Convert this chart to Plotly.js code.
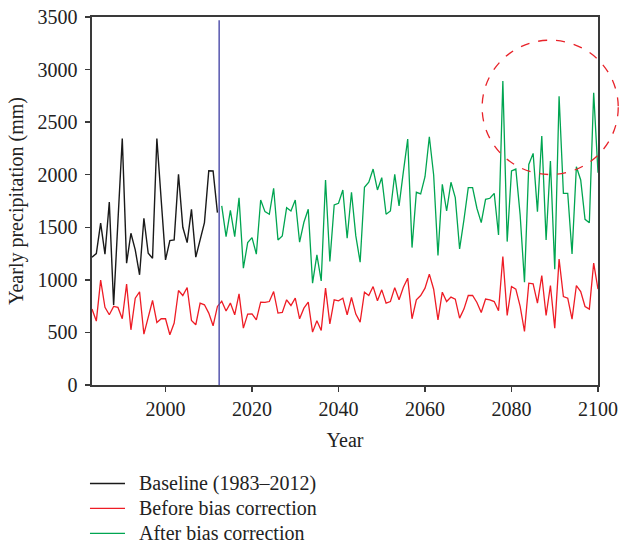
<!DOCTYPE html>
<html>
<head>
<meta charset="utf-8">
<script src="https://cdn.plot.ly/plotly-3.0.1.min.js"></script>
<style>html,body{margin:0;padding:0;background:#fff;}#chart{width:621px;height:546px;}</style>
</head>
<body>
<div id="chart"></div>
<script>
// Years
const baselineStart = 1983, baselineEnd = 2012;
const modelStart = 1983, correctedStart = 2013, endYear = 2100;
function yearsFrom(a, b) { const out = []; for (let y = a; y <= b; y++) out.push(y); return out; }

const baselineYears = yearsFrom(baselineStart, baselineEnd);
const beforeYears = yearsFrom(modelStart, endYear);
const afterYears = yearsFrom(correctedStart, endYear);

// Baseline (1983–2012), mm
const baselineValues = [1216, 1250, 1540, 1244, 1741, 760, 1560, 2345, 1158, 1443,
  1285, 1048, 1586, 1253, 1206, 2345, 1760, 1190, 1374, 1380,
  2004, 1500, 1354, 1671, 1216, 1380, 1545, 2038, 2035, 1640];

// Before bias correction (1983–2100), mm
const beforeValues = [722, 608, 997, 738, 668, 747, 738, 630, 959, 525,
  826, 886, 484, 652, 804, 595, 630, 630, 478, 590,
  899, 851, 927, 614, 573, 779, 763, 684, 563, 747,
  797, 704, 779, 668, 867, 541, 674, 677, 620, 788,
  785, 794, 889, 684, 690, 810, 756, 826, 630, 731,
  788, 503, 611, 519, 921, 582, 810, 801, 826, 668,
  832, 674, 598, 883, 851, 936, 801, 905, 779, 794,
  926, 810, 929, 1016, 630, 810, 851, 921, 1054, 911,
  620, 883, 794, 836, 817, 636, 722, 851, 851, 785,
  690, 817, 810, 794, 706, 1222, 661, 937, 912, 747,
  509, 968, 962, 779, 1041, 661, 946, 541, 1197, 841,
  826, 627, 946, 889, 747, 722, 1159, 912];

// After bias correction (2013–2100), mm
const afterValues = [1703, 1411, 1660, 1411, 1780, 1111, 1354, 1402, 1244, 1760,
  1649, 1624, 1871, 1380, 1418, 1687, 1655, 1760, 1358, 1548,
  1671, 969, 1237, 990, 1950, 1174, 1712, 1728, 1855, 1396,
  1833, 1418, 1168, 1880, 1928, 2054, 1855, 1972, 1624, 1655,
  2004, 1703, 2029, 2339, 1307, 1833, 1817, 1981, 2361, 1997,
  1231, 1909, 1655, 1928, 1782, 1294, 1570, 1877, 1877, 1681,
  1544, 1766, 1776, 1823, 1427, 2890, 1364, 2035, 2054, 1617,
  978, 2098, 2203, 1649, 2368, 1380, 2130, 1101, 2747, 1823,
  1823, 1247, 2076, 1950, 1576, 1544, 2779, 2019];

const seriesNames = ['Baseline (1983–2012)', 'Before bias correction', 'After bias correction'];
const seriesColors = ['#1a1a1a', '#ee1c25', '#00a551'];
const xTicks = [2000, 2020, 2040, 2060, 2080, 2100];
const yTicks = [0, 500, 1000, 1500, 2000, 2500, 3000, 3500];
const splitYear = 2012.4;

const FONT = 'Liberation Serif, Times New Roman, serif';
const FS = 20;
const AX = '#3a3a3a';

const traces = [
  {x: baselineYears, y: baselineValues, name: seriesNames[0], type: 'scatter', mode: 'lines',
   line: {color: seriesColors[0], width: 1.4}},
  {x: beforeYears, y: beforeValues, name: seriesNames[1], type: 'scatter', mode: 'lines',
   line: {color: seriesColors[1], width: 1.3}},
  {x: afterYears, y: afterValues, name: seriesNames[2], type: 'scatter', mode: 'lines',
   line: {color: seriesColors[2], width: 1.3}}
];

// Legend drawn below the plot (paper coordinates)
const legendRowsY = [-0.2677, -0.3355, -0.4033];
const legendShapes = seriesNames.map((n, i) => ({type: 'line', xref: 'paper', yref: 'paper',
  x0: -0.004, x1: 0.0652, y0: legendRowsY[i], y1: legendRowsY[i],
  line: {color: seriesColors[i], width: 1.3}}));
const legendTexts = seriesNames.map((n, i) => ({xref: 'paper', yref: 'paper', x: 0.0889, y: legendRowsY[i],
  xanchor: 'left', yanchor: 'middle', text: n, showarrow: false,
  font: {family: FONT, size: FS, color: '#222'}}));

const layout = {
  width: 621, height: 546,
  margin: {l: 92, r: 23, t: 17, b: 161, pad: 0},
  paper_bgcolor: '#fff', plot_bgcolor: '#fff',
  font: {family: FONT, size: FS, color: '#222'},
  showlegend: false,
  xaxis: {range: [1983, 2100], tickvals: xTicks, ticks: 'outside', ticklen: 5, tickwidth: 1.3,
    tickcolor: AX, showline: true, linecolor: AX, linewidth: 1.6, mirror: true,
    showgrid: false, zeroline: false, tickfont: {family: FONT, size: FS, color: '#222'},
    title: {text: 'Year', font: {family: FONT, size: FS, color: '#222'}, standoff: 14}},
  yaxis: {range: [0, 3500], tickvals: yTicks, ticks: 'outside', ticklen: 5, tickwidth: 1.3,
    tickcolor: AX, showline: true, linecolor: AX, linewidth: 1.6, mirror: true,
    showgrid: false, zeroline: false, tickfont: {family: FONT, size: FS, color: '#222'},
    ticklabelstandoff: 4,
    title: {text: 'Yearly precipitation (mm)', font: {family: FONT, size: FS, color: '#222'}, standoff: 8}},
  shapes: [
    {type: 'line', xref: 'x', yref: 'y', x0: splitYear, x1: splitYear, y0: 0, y1: 3470,
     line: {color: '#4a4aa8', width: 1.4}},
    {type: 'circle', xref: 'paper', yref: 'paper', x0: 0.771, x1: 1.04, y0: 0.572, y1: 0.937,
     line: {color: '#e8232a', width: 1.3, dash: 'dash'}}
  ].concat(legendShapes),
  annotations: legendTexts
};

Plotly.newPlot('chart', traces, layout, {displayModeBar: false, staticPlot: true});
</script>
</body>
</html>
